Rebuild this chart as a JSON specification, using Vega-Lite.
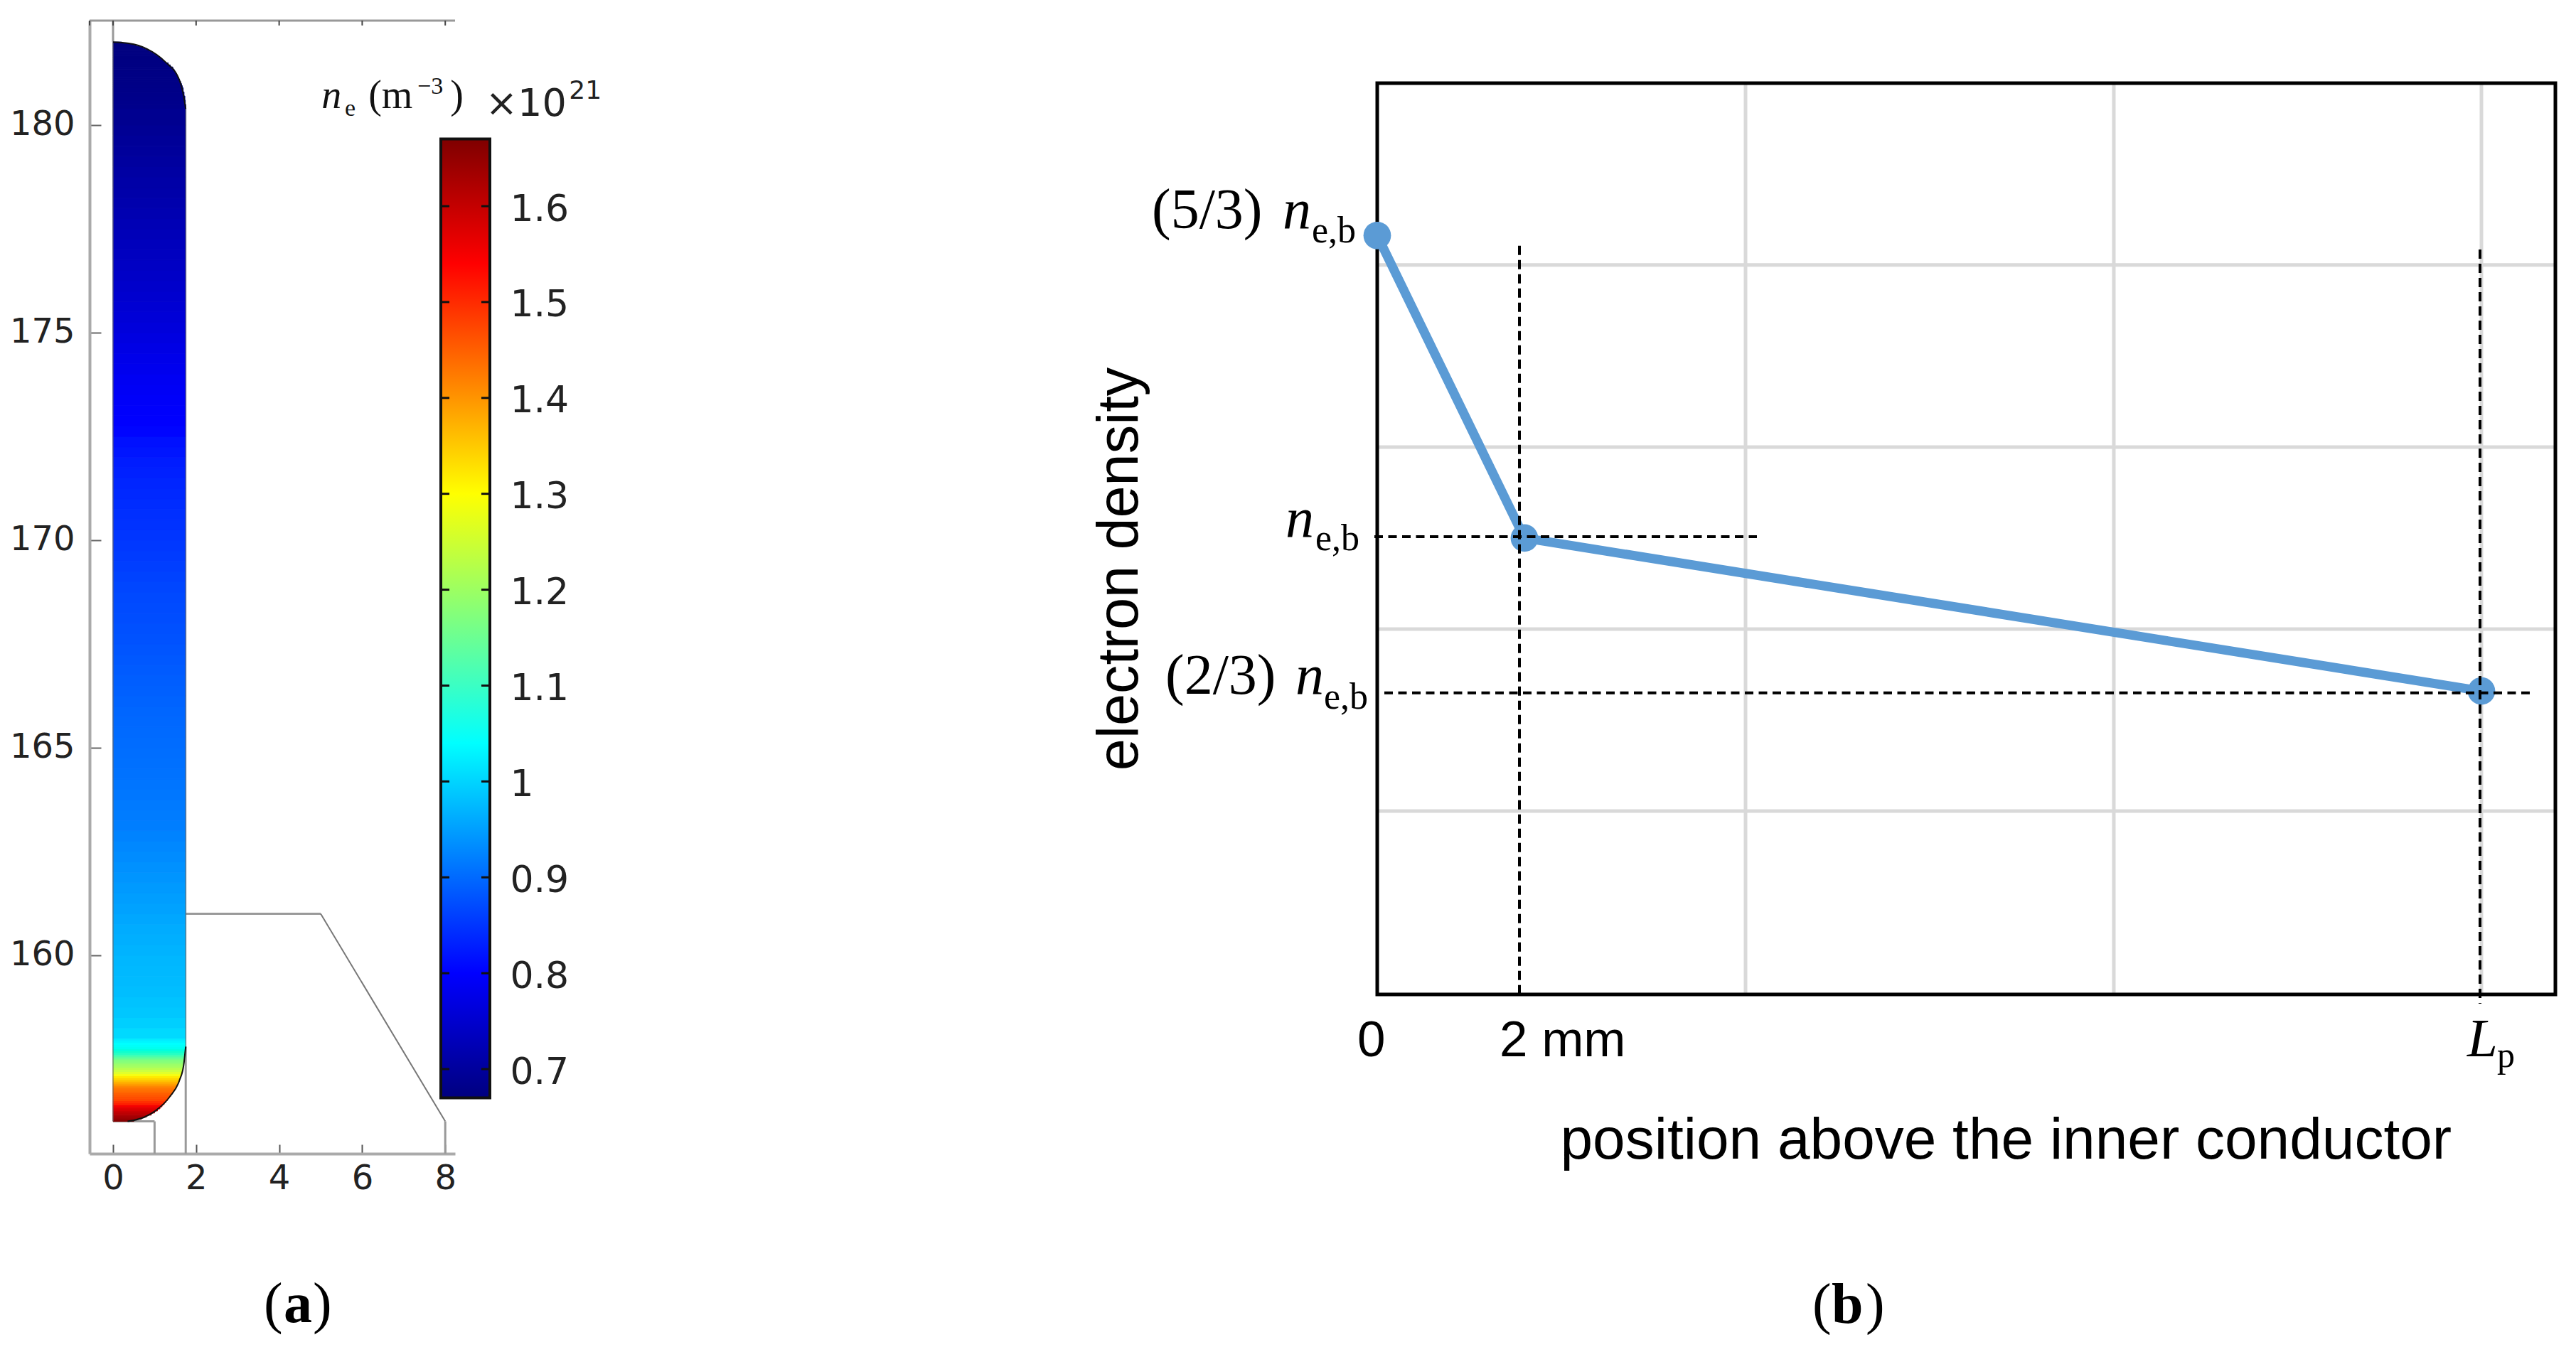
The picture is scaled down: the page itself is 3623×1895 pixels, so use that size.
{"$schema":"https://vega.github.io/schema/vega-lite/v6.json","background":"white","padding":{"left":13,"top":27,"right":0,"bottom":0},"bounds":"flush","spacing":1297,"config":{"view":{"stroke":null},"axis":{"grid":false}},
"datasets":{
"profile":[{"o":1,"x":0,"y":1.642},{"o":2,"x":2.07,"y":0.997},{"o":3,"x":15.53,"y":0.671}],
"plasma":[
{"x":0,"y":156.0,"y2":156.05,"w":0.5,"ne":1.66},{"x":0,"y":156.05,"y2":156.1,"w":0.68,"ne":1.64},{"x":0,"y":156.1,"y2":156.15,"w":0.8,"ne":1.63},{"x":0,"y":156.15,"y2":156.2,"w":0.92,"ne":1.61},{"x":0,"y":156.2,"y2":156.25,"w":1.0,"ne":1.6},{"x":0,"y":156.25,"y2":156.3,"w":1.07,"ne":1.58},{"x":0,"y":156.3,"y2":156.35,"w":1.13,"ne":1.57},{"x":0,"y":156.35,"y2":156.4,"w":1.18,"ne":1.55},{"x":0,"y":156.4,"y2":156.45,"w":1.23,"ne":1.53},{"x":0,"y":156.45,"y2":156.5,"w":1.27,"ne":1.52},{"x":0,"y":156.5,"y2":156.55,"w":1.31,"ne":1.5},{"x":0,"y":156.55,"y2":156.6,"w":1.35,"ne":1.49},{"x":0,"y":156.6,"y2":156.65,"w":1.39,"ne":1.48},{"x":0,"y":156.65,"y2":156.7,"w":1.42,"ne":1.47},{"x":0,"y":156.7,"y2":156.75,"w":1.45,"ne":1.45},{"x":0,"y":156.75,"y2":156.8,"w":1.48,"ne":1.44},{"x":0,"y":156.8,"y2":156.85,"w":1.51,"ne":1.42},{"x":0,"y":156.85,"y2":156.9,"w":1.54,"ne":1.4},{"x":0,"y":156.9,"y2":156.95,"w":1.56,"ne":1.38},{"x":0,"y":156.95,"y2":157.0,"w":1.58,"ne":1.36},{"x":0,"y":157.0,"y2":157.05,"w":1.6,"ne":1.34},{"x":0,"y":157.05,"y2":157.1,"w":1.62,"ne":1.32},{"x":0,"y":157.1,"y2":157.15,"w":1.64,"ne":1.29},{"x":0,"y":157.15,"y2":157.2,"w":1.66,"ne":1.27},{"x":0,"y":157.2,"y2":157.25,"w":1.67,"ne":1.25},{"x":0,"y":157.25,"y2":157.3,"w":1.68,"ne":1.23},{"x":0,"y":157.3,"y2":157.35,"w":1.69,"ne":1.21},{"x":0,"y":157.35,"y2":157.4,"w":1.7,"ne":1.2},{"x":0,"y":157.4,"y2":157.45,"w":1.71,"ne":1.18},{"x":0,"y":157.45,"y2":157.5,"w":1.72,"ne":1.17},{"x":0,"y":157.5,"y2":157.55,"w":1.73,"ne":1.15},{"x":0,"y":157.55,"y2":157.6,"w":1.73,"ne":1.13},{"x":0,"y":157.6,"y2":157.65,"w":1.74,"ne":1.11},{"x":0,"y":157.65,"y2":157.7,"w":1.74,"ne":1.1},{"x":0,"y":157.7,"y2":157.75,"w":1.75,"ne":1.08},{"x":0,"y":157.75,"y2":157.8,"w":1.75,"ne":1.06},{"x":0,"y":157.8,"y2":157.85,"w":1.75,"ne":1.05},{"x":0,"y":157.85,"y2":157.9,"w":1.75,"ne":1.04},{"x":0,"y":157.9,"y2":157.95,"w":1.75,"ne":1.03},{"x":0,"y":157.95,"y2":158.0,"w":1.75,"ne":1.02},{"x":0,"y":158.0,"y2":158.25,"w":1.75,"ne":1.0},{"x":0,"y":158.25,"y2":158.5,"w":1.75,"ne":0.99},
{"x":0,"y":158.5,"y2":158.75,"w":1.75,"ne":0.982},{"x":0,"y":158.75,"y2":159.0,"w":1.75,"ne":0.978},{"x":0,"y":159.0,"y2":159.25,"w":1.75,"ne":0.974},{"x":0,"y":159.25,"y2":159.5,"w":1.75,"ne":0.971},{"x":0,"y":159.5,"y2":159.75,"w":1.75,"ne":0.969},{"x":0,"y":159.75,"y2":160.0,"w":1.75,"ne":0.967},{"x":0,"y":160.0,"y2":160.25,"w":1.75,"ne":0.964},{"x":0,"y":160.25,"y2":160.5,"w":1.75,"ne":0.96},{"x":0,"y":160.5,"y2":160.75,"w":1.75,"ne":0.957},{"x":0,"y":160.75,"y2":161.0,"w":1.75,"ne":0.953},{"x":0,"y":161.0,"y2":161.25,"w":1.75,"ne":0.949},{"x":0,"y":161.25,"y2":161.5,"w":1.75,"ne":0.945},{"x":0,"y":161.5,"y2":161.75,"w":1.75,"ne":0.942},{"x":0,"y":161.75,"y2":162.0,"w":1.75,"ne":0.938},{"x":0,"y":162.0,"y2":162.25,"w":1.75,"ne":0.934},{"x":0,"y":162.25,"y2":162.5,"w":1.75,"ne":0.93},{"x":0,"y":162.5,"y2":162.75,"w":1.75,"ne":0.927},{"x":0,"y":162.75,"y2":163.0,"w":1.75,"ne":0.923},{"x":0,"y":163.0,"y2":163.25,"w":1.75,"ne":0.919},{"x":0,"y":163.25,"y2":163.5,"w":1.75,"ne":0.915},{"x":0,"y":163.5,"y2":163.75,"w":1.75,"ne":0.912},{"x":0,"y":163.75,"y2":164.0,"w":1.75,"ne":0.908},{"x":0,"y":164.0,"y2":164.25,"w":1.75,"ne":0.904},{"x":0,"y":164.25,"y2":164.5,"w":1.75,"ne":0.9},{"x":0,"y":164.5,"y2":164.75,"w":1.75,"ne":0.897},{"x":0,"y":164.75,"y2":165.0,"w":1.75,"ne":0.894},{"x":0,"y":165.0,"y2":165.25,"w":1.75,"ne":0.891},{"x":0,"y":165.25,"y2":165.5,"w":1.75,"ne":0.889},{"x":0,"y":165.5,"y2":165.75,"w":1.75,"ne":0.886},{"x":0,"y":165.75,"y2":166.0,"w":1.75,"ne":0.883},{"x":0,"y":166.0,"y2":166.25,"w":1.75,"ne":0.879},{"x":0,"y":166.25,"y2":166.5,"w":1.75,"ne":0.875},{"x":0,"y":166.5,"y2":166.75,"w":1.75,"ne":0.872},{"x":0,"y":166.75,"y2":167.0,"w":1.75,"ne":0.868},{"x":0,"y":167.0,"y2":167.25,"w":1.75,"ne":0.864},{"x":0,"y":167.25,"y2":167.5,"w":1.75,"ne":0.86},{"x":0,"y":167.5,"y2":167.75,"w":1.75,"ne":0.857},{"x":0,"y":167.75,"y2":168.0,"w":1.75,"ne":0.854},{"x":0,"y":168.0,"y2":168.25,"w":1.75,"ne":0.851},{"x":0,"y":168.25,"y2":168.5,"w":1.75,"ne":0.849},{"x":0,"y":168.5,"y2":168.75,"w":1.75,"ne":0.846},{"x":0,"y":168.75,"y2":169.0,"w":1.75,"ne":0.843},{"x":0,"y":169.0,"y2":169.25,"w":1.75,"ne":0.839},{"x":0,"y":169.25,"y2":169.5,"w":1.75,"ne":0.835},{"x":0,"y":169.5,"y2":169.75,"w":1.75,"ne":0.832},{"x":0,"y":169.75,"y2":170.0,"w":1.75,"ne":0.829},{"x":0,"y":170.0,"y2":170.25,"w":1.75,"ne":0.826},{"x":0,"y":170.25,"y2":170.5,"w":1.75,"ne":0.824},{"x":0,"y":170.5,"y2":170.75,"w":1.75,"ne":0.821},{"x":0,"y":170.75,"y2":171.0,"w":1.75,"ne":0.819},{"x":0,"y":171.0,"y2":171.25,"w":1.75,"ne":0.816},{"x":0,"y":171.25,"y2":171.5,"w":1.75,"ne":0.814},{"x":0,"y":171.5,"y2":171.75,"w":1.75,"ne":0.811},{"x":0,"y":171.75,"y2":172.0,"w":1.75,"ne":0.809},{"x":0,"y":172.0,"y2":172.25,"w":1.75,"ne":0.806},{"x":0,"y":172.25,"y2":172.5,"w":1.75,"ne":0.804},{"x":0,"y":172.5,"y2":172.75,"w":1.75,"ne":0.801},{"x":0,"y":172.75,"y2":173.0,"w":1.75,"ne":0.799},{"x":0,"y":173.0,"y2":173.25,"w":1.75,"ne":0.797},{"x":0,"y":173.25,"y2":173.5,"w":1.75,"ne":0.794},{"x":0,"y":173.5,"y2":173.75,"w":1.75,"ne":0.791},{"x":0,"y":173.75,"y2":174.0,"w":1.75,"ne":0.788},{"x":0,"y":174.0,"y2":174.25,"w":1.75,"ne":0.784},{"x":0,"y":174.25,"y2":174.5,"w":1.75,"ne":0.78},{"x":0,"y":174.5,"y2":174.75,"w":1.75,"ne":0.775},{"x":0,"y":174.75,"y2":175.0,"w":1.75,"ne":0.77},{"x":0,"y":175.0,"y2":175.25,"w":1.75,"ne":0.765},{"x":0,"y":175.25,"y2":175.5,"w":1.75,"ne":0.761},{"x":0,"y":175.5,"y2":175.75,"w":1.75,"ne":0.757},{"x":0,"y":175.75,"y2":176.0,"w":1.75,"ne":0.753},{"x":0,"y":176.0,"y2":176.25,"w":1.75,"ne":0.749},{"x":0,"y":176.25,"y2":176.5,"w":1.75,"ne":0.745},{"x":0,"y":176.5,"y2":176.75,"w":1.75,"ne":0.742},{"x":0,"y":176.75,"y2":177.0,"w":1.75,"ne":0.738},{"x":0,"y":177.0,"y2":177.25,"w":1.75,"ne":0.734},{"x":0,"y":177.25,"y2":177.5,"w":1.75,"ne":0.73},{"x":0,"y":177.5,"y2":177.75,"w":1.75,"ne":0.727},{"x":0,"y":177.75,"y2":178.0,"w":1.75,"ne":0.723},{"x":0,"y":178.0,"y2":178.25,"w":1.75,"ne":0.719},{"x":0,"y":178.25,"y2":178.5,"w":1.75,"ne":0.715},{"x":0,"y":178.5,"y2":178.75,"w":1.75,"ne":0.712},{"x":0,"y":178.75,"y2":179.0,"w":1.75,"ne":0.708},{"x":0,"y":179.0,"y2":179.25,"w":1.75,"ne":0.704},{"x":0,"y":179.25,"y2":179.5,"w":1.75,"ne":0.7},{"x":0,"y":179.5,"y2":179.75,"w":1.75,"ne":0.697},{"x":0,"y":179.75,"y2":180.0,"w":1.75,"ne":0.693},{"x":0,"y":180.0,"y2":180.4,"w":1.75,"ne":0.688},{"x":0,"y":180.4,"y2":180.5,"w":1.75,"ne":0.684},{"x":0,"y":180.5,"y2":180.6,"w":1.74,"ne":0.683},{"x":0,"y":180.6,"y2":180.7,"w":1.73,"ne":0.682},{"x":0,"y":180.7,"y2":180.8,"w":1.71,"ne":0.681},{"x":0,"y":180.8,"y2":180.9,"w":1.69,"ne":0.68},
{"x":0,"y":180.9,"y2":180.95,"w":1.67,"ne":0.679},{"x":0,"y":180.95,"y2":181.0,"w":1.65,"ne":0.679},{"x":0,"y":181.0,"y2":181.05,"w":1.63,"ne":0.678},{"x":0,"y":181.05,"y2":181.1,"w":1.6,"ne":0.678},{"x":0,"y":181.1,"y2":181.15,"w":1.58,"ne":0.677},{"x":0,"y":181.15,"y2":181.2,"w":1.55,"ne":0.677},{"x":0,"y":181.2,"y2":181.25,"w":1.53,"ne":0.676},{"x":0,"y":181.25,"y2":181.3,"w":1.5,"ne":0.676},{"x":0,"y":181.3,"y2":181.35,"w":1.47,"ne":0.675},{"x":0,"y":181.35,"y2":181.4,"w":1.44,"ne":0.675},{"x":0,"y":181.4,"y2":181.45,"w":1.38,"ne":0.674},{"x":0,"y":181.45,"y2":181.5,"w":1.33,"ne":0.674},
{"x":0,"y":181.5,"y2":181.525,"w":1.26,"ne":0.673},{"x":0,"y":181.525,"y2":181.55,"w":1.23,"ne":0.673},{"x":0,"y":181.55,"y2":181.575,"w":1.2,"ne":0.673},{"x":0,"y":181.575,"y2":181.6,"w":1.17,"ne":0.673},{"x":0,"y":181.6,"y2":181.625,"w":1.14,"ne":0.672},{"x":0,"y":181.625,"y2":181.65,"w":1.11,"ne":0.672},{"x":0,"y":181.65,"y2":181.675,"w":1.08,"ne":0.672},{"x":0,"y":181.675,"y2":181.7,"w":1.04,"ne":0.672},{"x":0,"y":181.7,"y2":181.725,"w":1.0,"ne":0.672},{"x":0,"y":181.725,"y2":181.75,"w":0.96,"ne":0.672},{"x":0,"y":181.75,"y2":181.775,"w":0.92,"ne":0.671},{"x":0,"y":181.775,"y2":181.8,"w":0.87,"ne":0.671},{"x":0,"y":181.8,"y2":181.825,"w":0.83,"ne":0.671},{"x":0,"y":181.825,"y2":181.85,"w":0.77,"ne":0.671},{"x":0,"y":181.85,"y2":181.875,"w":0.71,"ne":0.671},{"x":0,"y":181.875,"y2":181.9,"w":0.64,"ne":0.671},{"x":0,"y":181.9,"y2":181.925,"w":0.56,"ne":0.67},{"x":0,"y":181.925,"y2":181.95,"w":0.48,"ne":0.67},{"x":0,"y":181.95,"y2":181.975,"w":0.37,"ne":0.67},{"x":0,"y":181.975,"y2":182.0,"w":0.21,"ne":0.67}],
"barTicks":[{"x":7.894,"x2":8.1,"ne":0.7},{"x":7.894,"x2":8.1,"ne":0.8},{"x":7.894,"x2":8.1,"ne":0.9},{"x":7.894,"x2":8.1,"ne":1.0},{"x":7.894,"x2":8.1,"ne":1.1},{"x":7.894,"x2":8.1,"ne":1.2},{"x":7.894,"x2":8.1,"ne":1.3},{"x":7.894,"x2":8.1,"ne":1.4},{"x":7.894,"x2":8.1,"ne":1.5},{"x":7.894,"x2":8.1,"ne":1.6},{"x":8.87,"x2":9.075,"ne":0.7},{"x":8.87,"x2":9.075,"ne":0.8},{"x":8.87,"x2":9.075,"ne":0.9},{"x":8.87,"x2":9.075,"ne":1.0},{"x":8.87,"x2":9.075,"ne":1.1},{"x":8.87,"x2":9.075,"ne":1.2},{"x":8.87,"x2":9.075,"ne":1.3},{"x":8.87,"x2":9.075,"ne":1.4},{"x":8.87,"x2":9.075,"ne":1.5},{"x":8.87,"x2":9.075,"ne":1.6}],
"wall":[{"x":0,"y":182.517,"x2":0,"y2":182},{"x":0,"y":156,"x2":1.0,"y2":156},{"x":1.0,"y":156,"x2":1.0,"y2":155.222},{"x":1.75,"y":157.8,"x2":1.75,"y2":155.222},{"x":1.75,"y":161,"x2":5,"y2":161},{"x":8,"y":156,"x2":8,"y2":155.222},{"x":-0.565,"y":182.517,"x2":8.236,"y2":182.517}],
"diag":[{"x":5,"y":161,"x2":8,"y2":156}],
"edges":[{"x":0,"y":156,"x2":0,"y2":182},{"x":1.75,"y":157.8,"x2":1.75,"y2":180.39}],
"arcs":[{"arc":"top","o":1,"x":0,"y":182},{"arc":"top","o":2,"x":0.38,"y":181.97},{"arc":"top","o":3,"x":0.81,"y":181.84},{"arc":"top","o":4,"x":1.25,"y":181.53},{"arc":"top","o":5,"x":1.6,"y":181.08},{"arc":"top","o":6,"x":1.7,"y":180.7},{"arc":"top","o":7,"x":1.75,"y":180.39},{"arc":"bottom","o":1,"x":0.35,"y":156},{"arc":"bottom","o":2,"x":0.75,"y":156.1},{"arc":"bottom","o":3,"x":1.03,"y":156.26},{"arc":"bottom","o":4,"x":1.37,"y":156.6},{"arc":"bottom","o":5,"x":1.6,"y":156.99},{"arc":"bottom","o":6,"x":1.7,"y":157.35},{"arc":"bottom","o":7,"x":1.75,"y":157.8}],
"topTicks":[{"x":-0.565,"y":182.517,"y2":182.4},{"x":0,"y":182.517,"y2":182.4},{"x":2,"y":182.517,"y2":182.4},{"x":4,"y":182.517,"y2":182.4},{"x":6,"y":182.517,"y2":182.4},{"x":8,"y":182.517,"y2":182.4}]
},
"hconcat":[
{"width":514,"height":1594,
"resolve":{"scale":{"y":"independent"},"axis":{"y":"independent"}},
"encoding":{"x":{"field":"x","type":"quantitative","scale":{"domain":[-0.565,8.236],"nice":false,"zero":false},"axis":{"title":null,"values":[0,2,4,6,8],"orient":"bottom","domainColor":"#aaaaaa","domainWidth":4,"tickColor":"#555555","tickWidth":2,"tickSize":-13,"labelFont":"DejaVu Sans","labelFontSize":48,"labelColor":"#222222","labelPadding":24,"format":"d","encoding":{"labels":{"update":{"dx":{"signal":"-1.3*datum.value"}}}}}}},
"layer":[
{"encoding":{"y":{"field":"y","type":"quantitative","scale":{"domain":[155.222,182.517],"nice":false,"zero":false},"axis":{"title":null,"values":[160,165,170,175,180],"orient":"left","domainColor":"#aaaaaa","domainWidth":4,"tickColor":"#666666","tickWidth":2,"tickSize":-16,"labelFont":"DejaVu Sans","labelFontSize":48,"labelColor":"#222222","labelPadding":37,"format":"d"}}},
"layer":[
{"data":{"name":"wall"},"mark":{"type":"rule","stroke":"#999999","strokeWidth":3},"encoding":{"x2":{"field":"x2"},"y2":{"field":"y2"}}},
{"data":{"name":"diag"},"mark":{"type":"rule","stroke":"#777777","strokeWidth":2},"encoding":{"x2":{"field":"x2"},"y2":{"field":"y2"}}},
{"data":{"name":"topTicks"},"mark":{"type":"rule","stroke":"#444444","strokeWidth":2},"encoding":{"y2":{"field":"y2"}}},
{"data":{"name":"plasma"},"mark":{"type":"rect","strokeWidth":1},
"encoding":{"x2":{"field":"w"},"y2":{"field":"y2"},
"color":{"field":"ne","type":"quantitative","legend":null,"scale":{"domain":[0.67,0.8,0.92,1.04,1.17,1.3,1.42,1.54,1.67],"range":["#00007f","#0000ff","#007fff","#00ffff","#7fff7f","#ffff00","#ff7f00","#ff0000","#7f0000"]}},
"stroke":{"field":"ne","type":"quantitative","legend":null,"scale":{"domain":[0.67,0.8,0.92,1.04,1.17,1.3,1.42,1.54,1.67],"range":["#00007f","#0000ff","#007fff","#00ffff","#7fff7f","#ffff00","#ff7f00","#ff0000","#7f0000"]}}}},
{"data":{"name":"edges"},"mark":{"type":"rule","stroke":"#666666","strokeWidth":2,"opacity":0.55},"encoding":{"x2":{"field":"x2"},"y2":{"field":"y2"}}},
{"data":{"name":"arcs"},"mark":{"type":"line","stroke":"#111111","strokeWidth":2,"interpolate":"monotone"},"encoding":{"detail":{"field":"arc"},"order":{"field":"o","type":"quantitative"}}},
{"data":{"values":[{"x":5.02,"y":180.41,"t":"n"}]},"mark":{"type":"text","font":"Liberation Serif","fontStyle":"italic","fontSize":56,"align":"left","baseline":"alphabetic","color":"#111111"},"encoding":{"text":{"field":"t"}}},
{"data":{"values":[{"x":5.58,"y":180.22,"t":"e"},{"x":7.33,"y":180.75,"t":"−3"}]},"mark":{"type":"text","font":"Liberation Serif","fontSize":34,"align":"left","baseline":"alphabetic","color":"#111111"},"encoding":{"text":{"field":"t"}}},
{"data":{"values":[{"x":6.15,"y":180.41,"t":"(m"},{"x":8.12,"y":180.41,"t":")"}]},"mark":{"type":"text","font":"Liberation Serif","fontSize":56,"align":"left","baseline":"alphabetic","color":"#111111"},"encoding":{"text":{"field":"t"}}},
{"data":{"values":[{"x":8.97,"y":180.22,"t":"×10"}]},"mark":{"type":"text","font":"DejaVu Sans","fontSize":54,"align":"left","baseline":"alphabetic","color":"#222222"},"encoding":{"text":{"field":"t"}}},
{"data":{"values":[{"x":10.98,"y":180.63,"t":"21"}]},"mark":{"type":"text","font":"DejaVu Sans","fontSize":36,"align":"left","baseline":"alphabetic","color":"#222222"},"encoding":{"text":{"field":"t"}}},
{"data":{"values":[{"x":3.63,"y":151.16,"t":"("},{"x":4.81,"y":151.16,"t":")"}]},"mark":{"type":"text","font":"Liberation Serif","fontSize":80,"align":"left","baseline":"alphabetic","color":"black"},"encoding":{"text":{"field":"t"}}},
{"data":{"values":[{"x":4.11,"y":151.16,"t":"a"}]},"mark":{"type":"text","font":"Liberation Serif","fontWeight":"bold","fontSize":80,"align":"left","baseline":"alphabetic","color":"black"},"encoding":{"text":{"field":"t"}}}
]},
{"encoding":{"y":{"field":"ne","type":"quantitative","scale":{"domain":[0.67,1.67],"range":[1515.5,166.6],"nice":false,"zero":false},"axis":{"title":null,"orient":"right","values":[0.7,0.8,0.9,1.0,1.1,1.2,1.3,1.4,1.5,1.6],"domain":false,"ticks":false,"offset":62,"labelPadding":15,"labelOffset":4,"labelFont":"DejaVu Sans","labelFontSize":52,"labelColor":"#222222","format":"~g"}}},
"layer":[
{"data":{"values":[{"x":7.894,"x2":9.075,"ne":0.67,"end":1.67}]},"mark":{"type":"rect","stroke":"#111111","strokeWidth":4,"color":{"gradient":"linear","x1":0,"y1":1,"x2":0,"y2":0,"stops":[{"offset":0,"color":"#00007f"},{"offset":0.13,"color":"#0000ff"},{"offset":0.25,"color":"#007fff"},{"offset":0.37,"color":"#00ffff"},{"offset":0.5,"color":"#7fff7f"},{"offset":0.63,"color":"#ffff00"},{"offset":0.75,"color":"#ff7f00"},{"offset":0.87,"color":"#ff0000"},{"offset":1,"color":"#7f0000"}]}},"encoding":{"x2":{"field":"x2"},"y2":{"field":"end"}}},
{"data":{"name":"barTicks"},"mark":{"type":"rule","stroke":"#111111","strokeWidth":3},"encoding":{"x2":{"field":"x2"}}}
]}
]},
{"width":1657,"height":1370,
"encoding":{
"x":{"field":"x","type":"quantitative","scale":{"domain":[0,16.57],"nice":false,"zero":false},"axis":{"title":"position above the inner conductor","titleFont":"Liberation Sans","titleFontWeight":"normal","titleFontSize":82,"titleColor":"black","titleAlign":"left","titleAnchor":"start","titleBaseline":"alphabetic","titleX":257,"titleY":230,"labels":false,"ticks":false,"domain":false}},
"y":{"field":"y","type":"quantitative","scale":{"domain":[0.0242,2.1],"nice":false,"zero":false},"axis":{"title":"electron density","titleFont":"Liberation Sans","titleFontWeight":"normal","titleFontSize":81,"titleColor":"black","titleAlign":"center","titleAnchor":"middle","titleBaseline":"alphabetic","titleAngle":270,"titleX":-338,"titleY":771,"labels":false,"ticks":false,"domain":false}}},
"layer":[
{"data":{"values":[{"x":5.18,"y":0.0242,"y2":1.9667},{"x":10.36,"y":0.0242,"y2":1.9667},{"x":15.53,"y":0.0242,"y2":1.9667}]},"mark":{"type":"rule","stroke":"#d9d9d9","strokeWidth":5},"encoding":{"y2":{"field":"y2"}}},
{"data":{"values":[{"x":0,"x2":16.57,"y":1.579},{"x":0,"x2":16.57,"y":1.191},{"x":0,"x2":16.57,"y":0.803},{"x":0,"x2":16.57,"y":0.415}]},"mark":{"type":"rule","stroke":"#d9d9d9","strokeWidth":5},"encoding":{"x2":{"field":"x2"}}},
{"data":{"values":[{"x":0,"x2":16.57,"y":0.0242,"y2":1.9667}]},"mark":{"type":"rect","fillOpacity":0,"stroke":"black","strokeWidth":5},"encoding":{"x2":{"field":"x2"},"y2":{"field":"y2"}}},
{"data":{"name":"profile"},"mark":{"type":"line","stroke":"#5b9bd5","strokeWidth":13},"encoding":{"order":{"field":"o","type":"quantitative"}}},
{"data":{"name":"profile"},"mark":{"type":"point","filled":true,"opacity":1,"color":"#5b9bd5","size":1500,"shape":"circle"}},
{"data":{"values":[{"x":-0.04,"x2":5.34,"y":1.0},{"x":0.1,"x2":16.23,"y":0.667}]},"mark":{"type":"rule","stroke":"black","strokeWidth":4,"strokeDash":[12,7.5]},"encoding":{"x2":{"field":"x2"}}},
{"data":{"values":[{"x":2,"y":1.62,"y2":0.014},{"x":15.51,"y":1.612,"y2":0.0045}]},"mark":{"type":"rule","stroke":"black","strokeWidth":4,"strokeDash":[13,7]},"encoding":{"y2":{"field":"y2"}}},
{"data":{"values":[{"x":-3.17,"y":1.657,"t":"(5/3)"},{"x":-2.98,"y":0.665,"t":"(2/3)"},{"x":6.12,"y":-0.676,"t":"("},{"x":6.87,"y":-0.676,"t":")"}]},"mark":{"type":"text","font":"Liberation Serif","fontSize":80,"align":"left","baseline":"alphabetic","color":"black"},"encoding":{"text":{"field":"t"}}},
{"data":{"values":[{"x":-1.33,"y":1.657,"t":"n"},{"x":-1.29,"y":1.0,"t":"n"},{"x":-1.15,"y":0.665,"t":"n"}]},"mark":{"type":"text","font":"Liberation Serif","fontStyle":"italic","fontSize":80,"align":"left","baseline":"alphabetic","color":"black"},"encoding":{"text":{"field":"t"}}},
{"data":{"values":[{"x":-0.92,"y":1.628,"t":"e,b"},{"x":-0.87,"y":0.971,"t":"e,b"},{"x":-0.75,"y":0.634,"t":"e,b"}]},"mark":{"type":"text","font":"Liberation Serif","fontSize":52,"align":"left","baseline":"alphabetic","color":"black"},"encoding":{"text":{"field":"t"}}},
{"data":{"values":[{"x":-0.28,"y":-0.108,"t":"0"},{"x":1.72,"y":-0.108,"t":"2 mm"}]},"mark":{"type":"text","font":"Liberation Sans","fontSize":71,"align":"left","baseline":"alphabetic","color":"black"},"encoding":{"text":{"field":"t"}}},
{"data":{"values":[{"x":15.33,"y":-0.108,"t":"L"}]},"mark":{"type":"text","font":"Liberation Serif","fontStyle":"italic","fontSize":77,"align":"left","baseline":"alphabetic","color":"black"},"encoding":{"text":{"field":"t"}}},
{"data":{"values":[{"x":15.75,"y":-0.13,"t":"p"}]},"mark":{"type":"text","font":"Liberation Serif","fontSize":50,"align":"left","baseline":"alphabetic","color":"black"},"encoding":{"text":{"field":"t"}}},
{"data":{"values":[{"x":6.39,"y":-0.676,"t":"b"}]},"mark":{"type":"text","font":"Liberation Serif","fontWeight":"bold","fontSize":80,"align":"left","baseline":"alphabetic","color":"black"},"encoding":{"text":{"field":"t"}}}
]}
]}
